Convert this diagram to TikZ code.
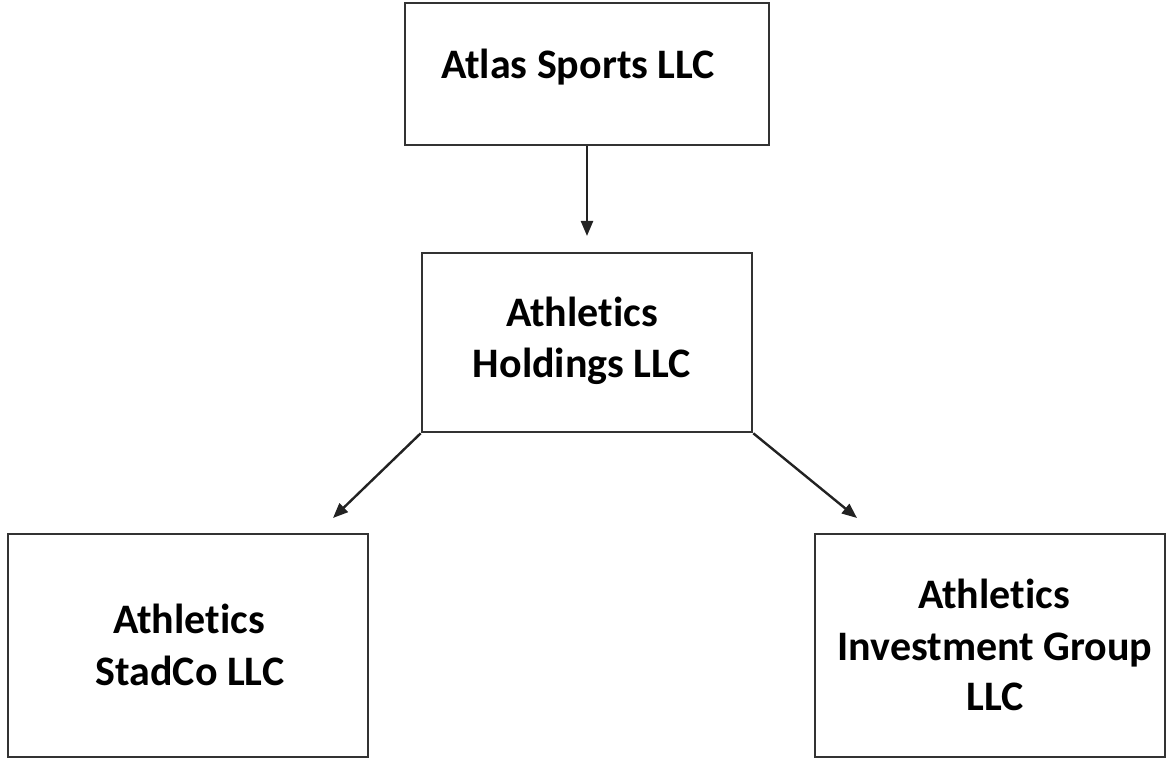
\documentclass[tikz,border=0pt]{standalone}
\usepackage{fontspec}
\setmainfont{Carlito}[RawFeature={-liga}]
\usetikzlibrary{arrows.meta}
\definecolor{boxline}{HTML}{333333}
\definecolor{arrline}{HTML}{222222}
\tikzset{
  box/.style={draw=boxline, line width=2.6pt, rectangle, inner sep=0pt, fill=none},
  lbl/.style={anchor=base, inner sep=0pt, font=\fontsize{42}{51}\selectfont\bfseries, text=black},
  conn/.style={draw=arrline, line width=2.4pt, -{Triangle[length=15pt,width=12pt]}}
}
\begin{document}
\begin{tikzpicture}[x=1pt,y=-1pt]
\useasboundingbox (0,0) rectangle (1171,759);
% boxes
\node[box, minimum width=364pt, minimum height=142pt] (top) at (587,74) {};
\node[box, minimum width=330pt, minimum height=179pt] (mid) at (587,342.5) {};
\node[box, minimum width=360pt, minimum height=223pt] (left) at (188,645.5) {};
\node[box, minimum width=350pt, minimum height=223pt] (right) at (990,645.5) {};
% labels
\node[lbl] (t1) at (578,79) {Atlas Sports LLC};
\node[lbl] (m1) at (582,327) {Athletics};
\node[lbl] (m2) at (582,378) {Holdings LLC};
\node[lbl] (l1) at (189,633) {Athletics};
\node[lbl] (l2) at (190,685) {StadCo LLC};
\node[lbl] (r1) at (994,608) {Athletics};
\node[lbl] (r2) at (995,660) {Investment Group};
\node[lbl] (r3) at (995,710) {LLC};
% arrow tips
\coordinate (a1) at (587,236);
\coordinate (a2) at (333,518);
\coordinate (a3) at (857,518);
\draw[conn] (top.south) -- (a1);
\draw[conn] (mid.south west) -- (a2);
\draw[conn] (mid.south east) -- (a3);
\end{tikzpicture}
\end{document}
